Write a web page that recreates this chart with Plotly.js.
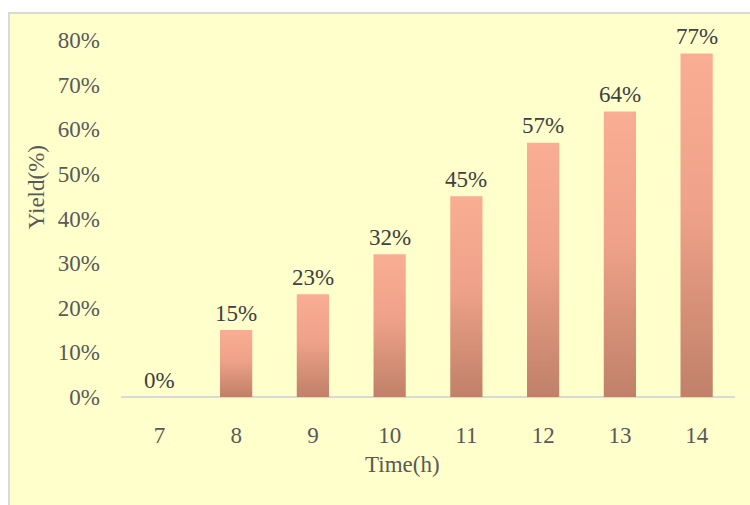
<!DOCTYPE html>
<html>
<head>
<meta charset="utf-8">
<script src="https://cdn.plot.ly/plotly-3.0.1.min.js"></script>
<style>
  html, body { margin: 0; padding: 0; background: #ffffff; width: 750px; height: 505px; overflow: hidden; }
  #frame { position: absolute; left: 8px; top: 12px; width: 760px; height: 520px;
           border: 2px solid #d9d9d9; background: #ffffcc; box-sizing: border-box; }
  #chart { position: absolute; left: 0; top: 0; width: 750px; height: 505px; }
</style>
</head>
<body>
<div id="frame"></div>
<div id="chart"></div>
<script>
// Reaction time (hours) and product yield
const hours = ['7', '8', '9', '10', '11', '12', '13', '14'];
const yieldPct = [0, 15, 23, 32, 45, 57, 64, 77];
const yTickVals = [0, 10, 20, 30, 40, 50, 60, 70, 80];

const yieldFrac = yieldPct.map(v => v / 100);
const serif = '"Times New Roman", "Liberation Serif", Times, serif';
const labelFont = { family: serif, size: 23, color: '#404040' };
const tickFont = { family: serif, size: 23, color: '#595959' };

const trace = {
  type: 'bar',
  x: hours,
  y: yieldFrac,
  marker: { color: '#f9ad92', line: { width: 0 } },
  hoverinfo: 'skip'
};

// value labels sit a little above each bar (x given as category index)
const valueLabels = hours.map((h, i) => ({
  x: i,
  y: yieldFrac[i],
  xref: 'x',
  yref: 'y',
  text: yieldPct[i] + '%',
  showarrow: false,
  yanchor: 'middle',
  yshift: 17,
  font: labelFont
}));

const axisTitles = [
  { text: 'Time(h)', xref: 'paper', yref: 'paper', x: 0.458, y: -0.188,
    xanchor: 'center', yanchor: 'middle', showarrow: false, font: tickFont },
  { text: 'Yield(%)', xref: 'paper', yref: 'paper', x: -0.138, y: 0.588,
    xanchor: 'center', yanchor: 'middle', textangle: -90, showarrow: false, font: tickFont }
];

const layout = {
  width: 750,
  height: 505,
  margin: { l: 121, r: 15, t: 40, b: 108 },
  paper_bgcolor: 'rgba(0,0,0,0)',
  plot_bgcolor: 'rgba(0,0,0,0)',
  bargap: 0.58,
  showlegend: false,
  annotations: valueLabels.concat(axisTitles),
  xaxis: {
    type: 'category',
    range: [-0.5, hours.length - 0.5],
    showgrid: false,
    zeroline: false,
    showline: false,
    ticks: '',
    tickfont: tickFont,
    ticklabelstandoff: 22
  },
  yaxis: {
    range: [0, 0.8],
    tickvals: yTickVals.map(v => v / 100),
    ticktext: yTickVals.map(v => v + '%'),
    showgrid: false,
    zeroline: true,
    zerolinecolor: '#d9d9d9',
    zerolinewidth: 2,
    showline: false,
    ticks: '',
    tickfont: tickFont,
    ticklabelstandoff: 20
  }
};

Plotly.newPlot('chart', [trace], layout, { staticPlot: true, displayModeBar: false }).then(gd => {
  // Vertical gradient on each bar: light salmon at the top, darker at the base
  const svg = gd.querySelector('svg.main-svg');
  const ns = 'http://www.w3.org/2000/svg';
  let defs = svg.querySelector('defs');
  if (!defs) { defs = document.createElementNS(ns, 'defs'); svg.insertBefore(defs, svg.firstChild); }
  const grad = document.createElementNS(ns, 'linearGradient');
  grad.setAttribute('id', 'barFade');
  grad.setAttribute('x1', '0'); grad.setAttribute('y1', '0');
  grad.setAttribute('x2', '0'); grad.setAttribute('y2', '1');
  [['0', '#f9ad92'], ['0.45', '#efa289'], ['1', '#c08069']].forEach(([o, c]) => {
    const s = document.createElementNS(ns, 'stop');
    s.setAttribute('offset', o);
    s.setAttribute('stop-color', c);
    grad.appendChild(s);
  });
  defs.appendChild(grad);
  gd.querySelectorAll('.trace.bars .point path').forEach(p => {
    p.style.fill = 'url(#barFade)';
  });
});
</script>
</body>
</html>
